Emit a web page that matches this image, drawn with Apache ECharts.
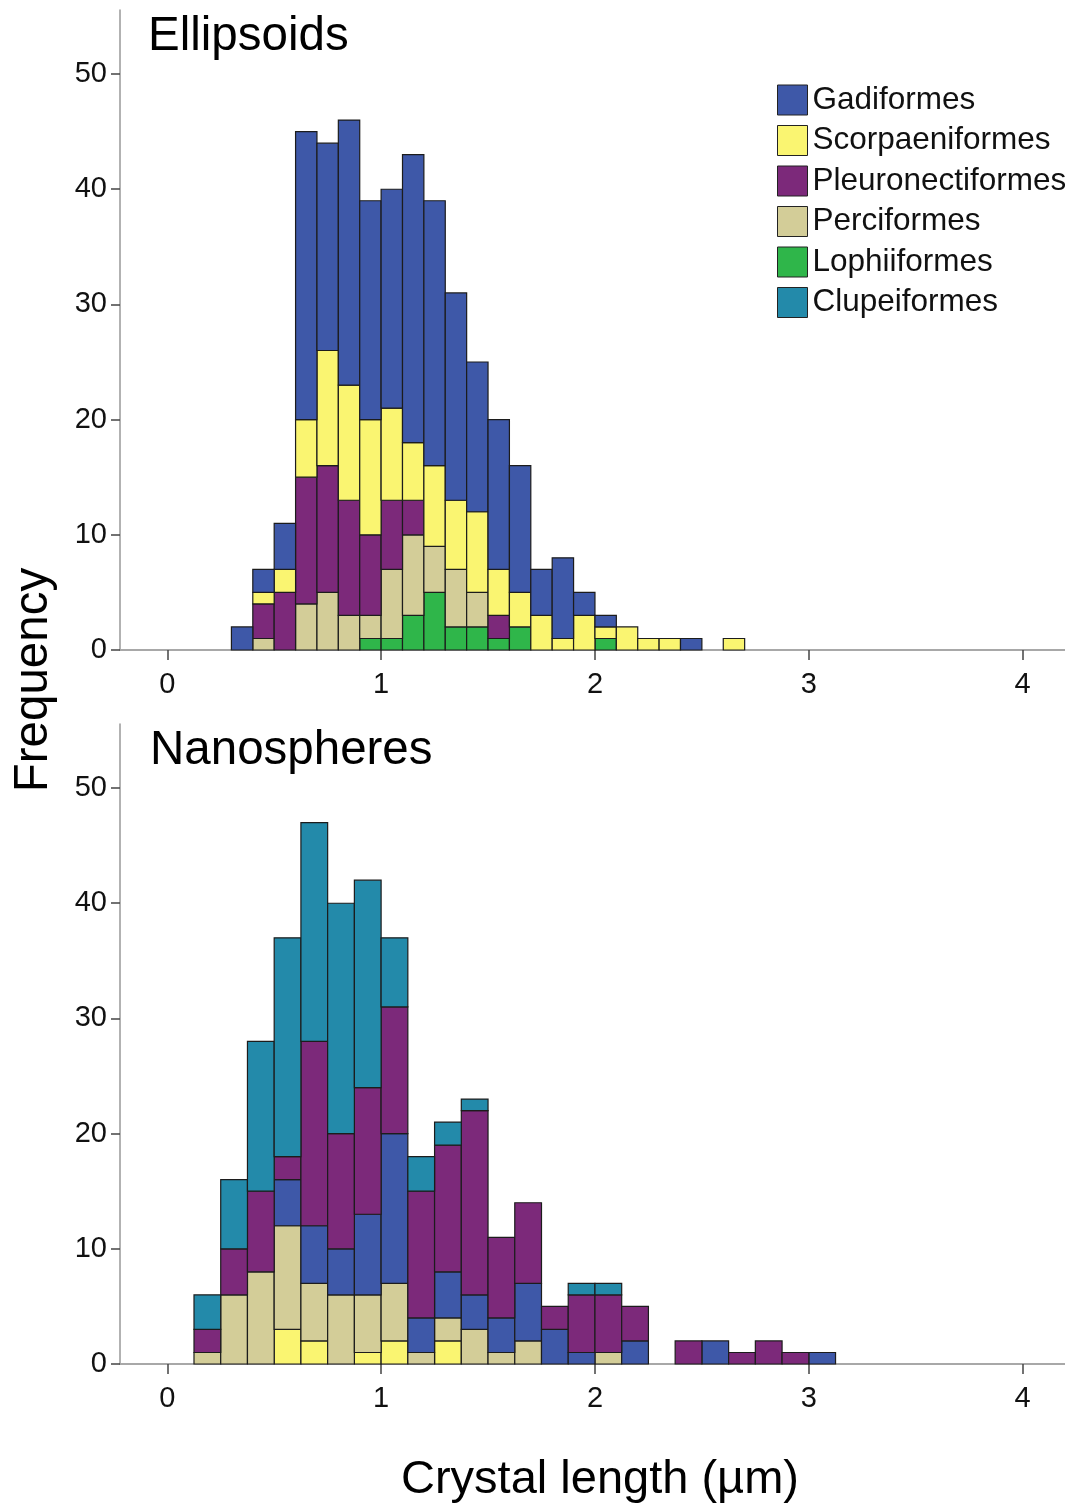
<!DOCTYPE html>
<html>
<head>
<meta charset="utf-8">
<script src="https://cdn.jsdelivr.net/npm/echarts@6/dist/echarts.min.js"></script>
<style>
html,body{margin:0;padding:0;background:#fff;}
#chart{width:1065px;height:1508px;}
</style>
</head>
<body>
<div id="chart"></div>
<script>
// ---------- DATA ----------
const groupNames = ['Gadiformes','Scorpaeniformes','Pleuronectiformes','Perciformes','Lophiiformes','Clupeiformes'];
const xTicks = [0,1,2,3,4];
const yTicks = [0,10,20,30,40,50];

// Ellipsoids: bin edges (width 0.1)
const ellBinEdges = [0.3,0.4,0.5,0.6,0.7,0.8,0.9,1.0,1.1,1.2,1.3,1.4,1.5,1.6,1.7,1.8,1.9,2.0,2.1,2.2,2.3,2.4,2.5,2.6,2.7];
const ellLophiiformes      = [0,0,0,0,0,0,1,1,3,5,2,2,1,2,0,0,0,1,0,0,0,0,0,0];
const ellPerciformes       = [0,1,0,4,5,3,2,6,7,4,5,3,0,0,0,0,0,0,0,0,0,0,0,0];
const ellPleuronectiformes = [0,3,5,11,11,10,7,6,3,0,0,0,2,0,0,0,0,0,0,0,0,0,0,0];
const ellScorpaeniformes   = [0,1,2,5,10,10,10,8,5,7,6,7,4,3,3,1,3,1,2,1,1,0,0,1];
const ellGadiformes        = [2,2,4,25,18,23,19,19,25,23,18,13,13,11,4,7,2,1,0,0,0,1,0,0];

// Nanospheres: bin edges (width 0.125)
const nanoBinEdges = [0.125,0.25,0.375,0.5,0.625,0.75,0.875,1.0,1.125,1.25,1.375,1.5,1.625,1.75,1.875,2.0,2.125,2.25,2.375,2.5,2.625,2.75,2.875,3.0,3.125];
const nanoScorpaeniformes   = [0,0,0,3,2,0,1,2,0,2,0,0,0,0,0,0,0,0,0,0,0,0,0,0];
const nanoPerciformes       = [1,6,8,9,5,6,5,5,1,2,3,1,2,0,0,1,0,0,0,0,0,0,0,0];
const nanoGadiformes        = [0,0,0,4,5,4,7,13,3,4,3,3,5,3,1,0,2,0,0,2,0,0,0,1];
const nanoPleuronectiformes = [2,4,7,2,16,10,11,11,11,11,16,7,7,2,5,5,3,0,2,0,1,2,1,0];
const nanoClupeiformes      = [3,6,13,19,19,20,18,6,3,2,1,0,0,0,1,1,0,0,0,0,0,0,0,0];

// ---------- STYLE ----------
const colors = {
  Gadiformes:'#3e58a8',
  Scorpaeniformes:'#faf571',
  Pleuronectiformes:'#7c297a',
  Perciformes:'#d3cd98',
  Lophiiformes:'#2fb64a',
  Clupeiformes:'#238aaa'
};
const FONT = '"Liberation Sans", Arial, sans-serif';

function renderBar(params, api){
  const x0 = api.value(0), x1 = api.value(1), y0 = api.value(2), y1 = api.value(3);
  const a = api.coord([x0, y1]);
  const b = api.coord([x1, y0]);
  return {
    type:'rect',
    shape:{x:a[0], y:a[1], width:b[0]-a[0], height:b[1]-a[1]},
    style:{fill:api.visual('color'), stroke:'#1c1c1c', lineWidth:1.2}
  };
}

function stackSeries(panel, edges, layers){
  const out = [];
  const n = edges.length - 1;
  const base = new Array(n).fill(0);
  layers.forEach(function(layer){
    const data = [];
    for (let i = 0; i < n; i++){
      const v = layer.values[i];
      if (v > 0) data.push([edges[i], edges[i+1], base[i], base[i] + v]);
      base[i] += v;
    }
    out.push({
      type:'custom',
      name:layer.name,
      xAxisIndex:panel,
      yAxisIndex:panel,
      renderItem:renderBar,
      encode:{x:[0,1], y:[2,3]},
      itemStyle:{color:colors[layer.name], borderColor:'#1c1c1c', borderWidth:1},
      data:data,
      silent:true
    });
  });
  return out;
}

const series = [].concat(
  stackSeries(0, ellBinEdges, [
    {name:'Lophiiformes', values:ellLophiiformes},
    {name:'Perciformes', values:ellPerciformes},
    {name:'Pleuronectiformes', values:ellPleuronectiformes},
    {name:'Scorpaeniformes', values:ellScorpaeniformes},
    {name:'Gadiformes', values:ellGadiformes}
  ]),
  stackSeries(1, nanoBinEdges, [
    {name:'Scorpaeniformes', values:nanoScorpaeniformes},
    {name:'Perciformes', values:nanoPerciformes},
    {name:'Gadiformes', values:nanoGadiformes},
    {name:'Pleuronectiformes', values:nanoPleuronectiformes},
    {name:'Clupeiformes', values:nanoClupeiformes}
  ])
);

function xAxisCfg(gi){
  return {
    type:'value', gridIndex:gi, min:-0.221, max:4.198,
    axisLine:{show:true, onZero:false, lineStyle:{color:'#a8a8a8', width:2}},
    axisTick:{show:true, customValues:xTicks, length:10, lineStyle:{color:'#444', width:1.5}},
    axisLabel:{customValues:xTicks, margin:20, fontSize:29, color:'#111', fontFamily:FONT},
    splitLine:{show:false}
  };
}
function yAxisCfg(gi){
  return {
    type:'value', gridIndex:gi, min:0, max:55.56,
    axisLine:{show:true, onZero:false, lineStyle:{color:'#999', width:1.5}},
    axisTick:{show:true, customValues:yTicks, length:9, lineStyle:{color:'#444', width:1.5}},
    axisLabel:{customValues:yTicks, margin:13, fontSize:29, color:'#111', fontFamily:FONT,
               verticalAlign:'middle', padding:[12,0,0,0]},
    splitLine:{show:false}
  };
}

const chart = echarts.init(document.getElementById('chart'), null, {renderer:'canvas'});
chart.setOption({
  animation:false,
  backgroundColor:'#fff',
  grid:[
    {left:120, top:10, width:945, height:640},
    {left:120, top:724, width:945, height:640}
  ],
  xAxis:[xAxisCfg(0), xAxisCfg(1)],
  yAxis:[yAxisCfg(0), yAxisCfg(1)],
  legend:{
    data:groupNames,
    orient:'vertical',
    left:777, top:81,
    padding:0,
    icon:'rect',
    itemWidth:30, itemHeight:30, itemGap:2.5,
    selectedMode:false,
    itemStyle:{borderColor:'#222', borderWidth:1},
    textStyle:{fontSize:31.5, color:'#111', fontFamily:FONT, lineHeight:30, padding:[8,0,0,0]}
  },
  graphic:[
    {type:'text', left:148, top:13, style:{text:'Ellipsoids', font:'47.5px ' + FONT, fill:'#000'}},
    {type:'text', left:150, top:727, style:{text:'Nanospheres', font:'47.5px ' + FONT, fill:'#000'}},
    {type:'text', x:34, y:680, rotation:Math.PI/2,
     style:{text:'Frequency', font:'47.5px ' + FONT, fill:'#000', textAlign:'center', textVerticalAlign:'middle'}},
    {type:'text', x:600, y:1480,
     style:{text:'Crystal length (\u00b5m)', font:'47px ' + FONT, fill:'#000', textAlign:'center', textVerticalAlign:'middle'}}
  ],
  series:series
});
</script>
</body>
</html>
